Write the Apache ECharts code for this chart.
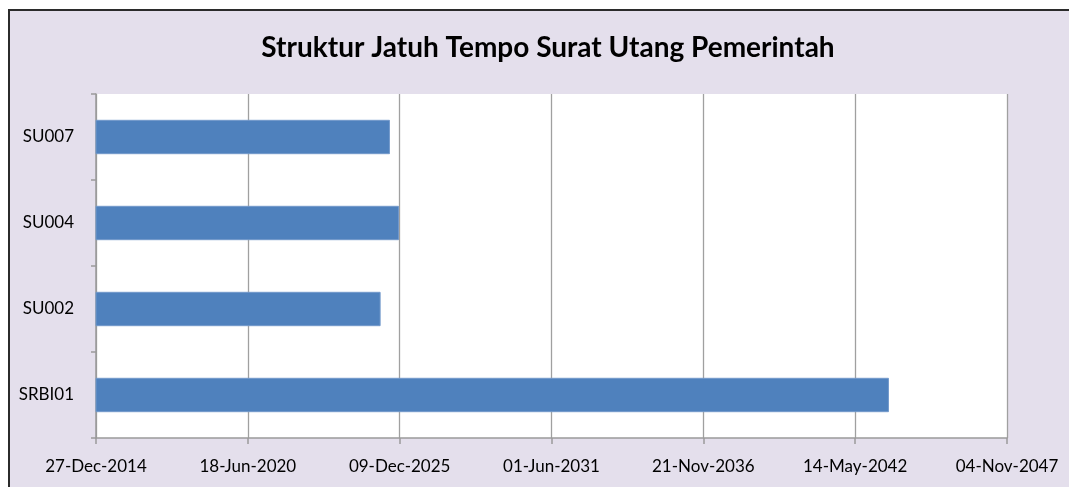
<!DOCTYPE html>
<html>
<head>
<meta charset="utf-8">
<script src="https://cdn.jsdelivr.net/npm/echarts@6/dist/echarts.min.js"></script>
<style>
  body { margin: 0; background: #fff; }
  #wrap { position: relative; width: 1069px; height: 487px; overflow: hidden; }
  #frame {
    position: absolute; left: 8px; top: 9px; width: 1200px; height: 600px;
    border: 2px solid #2b2b2b; background: #e4dfec;
  }
  #chart { position: absolute; left: 0; top: 0; width: 1069px; height: 487px; }
</style>
</head>
<body>
<div id="wrap">
  <div id="frame"></div>
  <div id="chart"></div>
</div>
<script>
// obligasi, dari bawah ke atas
const bonds = ['SRBI01', 'SU002', 'SU004', 'SU007']
const maturity = ['2043-08-02', '2025-04-02', '2025-11-30', '2025-08-03']

// sumbu tanggal dalam nomor seri hari (gaya Excel)
const axisMin = 42000 // 27-Dec-2014
const axisMax = 54000 // 04-Nov-2047
const axisStep = 2000

const months = ['Jan', 'Feb', 'Mar', 'Apr', 'May', 'Jun', 'Jul', 'Aug', 'Sep', 'Oct', 'Nov', 'Dec']
const base = Date.UTC(1899, 11, 30)
const toSerial = (s) => Math.round((Date.parse(s + 'T00:00:00Z') - base) / 86400000)
const fmtSerial = (n) => {
  const d = new Date(base + n * 86400000)
  const dd = String(d.getUTCDate()).padStart(2, '0')
  return dd + '-' + months[d.getUTCMonth()] + '-' + d.getUTCFullYear()
}

const font = 'Lato, "Open Sans", sans-serif'
const chart = echarts.init(document.getElementById('chart'))
chart.setOption({
  backgroundColor: 'transparent',
  animation: false,
  title: {
    text: 'Struktur Jatuh Tempo Surat Utang Pemerintah',
    left: 543,
    top: 29,
    textAlign: 'center',
    textStyle: { fontFamily: font, fontSize: 28, fontWeight: 'bold', color: '#000' },
  },
  grid: {
    left: 96,
    right: 62,
    top: 94,
    bottom: 49,
    show: true,
    backgroundColor: '#fff',
    borderWidth: 0,
  },
  xAxis: {
    type: 'value',
    min: axisMin,
    max: axisMax,
    interval: axisStep,
    axisLine: { show: true, lineStyle: { color: '#9a9a9a', width: 1.5 } },
    axisTick: { show: true, length: 6, lineStyle: { color: '#9a9a9a', width: 1.5 } },
    splitLine: { show: true, lineStyle: { color: '#a0a0a0', width: 1.3 } },
    axisLabel: {
      margin: 20,
      fontFamily: font,
      fontSize: 17,
      color: '#000',
      formatter: (v) => fmtSerial(v),
    },
  },
  yAxis: {
    type: 'category',
    data: bonds,
    axisLine: { show: true, lineStyle: { color: '#9a9a9a', width: 1.5 } },
    axisTick: { show: true, length: 5, lineStyle: { color: '#9a9a9a', width: 1.5 } },
    axisLabel: { margin: 22, fontFamily: font, fontSize: 17, color: '#000' },
  },
  series: [
    {
      type: 'bar',
      data: maturity.map(toSerial),
      barCategoryGap: '60%',
      itemStyle: { color: '#4f81bd', borderColor: '#7399cb', borderWidth: 1 },
    },
  ],
})
</script>
</body>
</html>
